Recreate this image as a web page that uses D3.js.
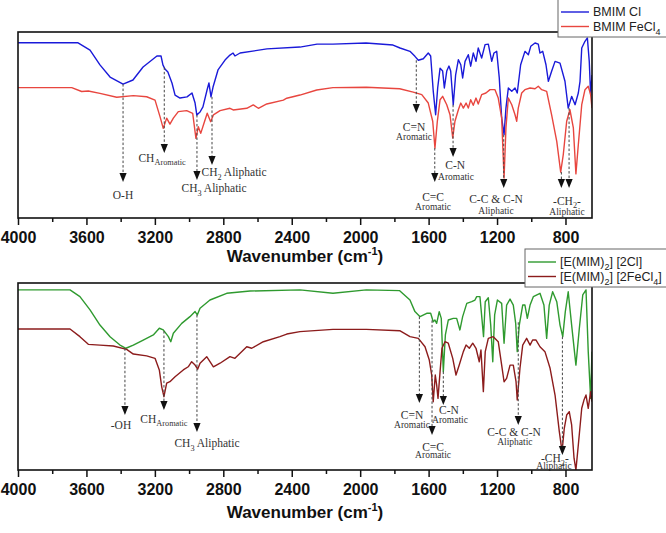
<!DOCTYPE html>
<meta charset="utf-8">
<style>
body { margin: 0; background: #fff; }
text { font-family: "Liberation Sans", Arial, sans-serif; }
.note text { font-family: "Liberation Serif", "Times New Roman", serif; fill: #333; }
.axis text { font-weight: bold; font-size: 16px; fill: #111; }
.axis path, .axis line { stroke: #111; stroke-width: 1.5px; }
.spectrum { fill: none; stroke-width: 1.4px; stroke-linejoin: round; }
</style>
<svg width="666" height="533"></svg>
<script src="https://d3js.org/d3.v7.min.js"></script>
<script>

// [wavenumber cm-1, transmittance a.u.]
var bmimCl = [[4000,94.2],[3649,94.2],[3579,90.3],[3521,82.3],[3462,75.8],[3386,72.0],[3328,74.2],[3269,81.2],[3188,87.1],[3164,87.1],[3153,82.3],[3141,80.1],[3124,78.5],[3100,72.6],[3082,66.1],[3053,64.5],[3012,65.1],[2983,67.2],[2965,61.8],[2955,55.4],[2936,57.0],[2919,59.7],[2895,68.8],[2884,72.6],[2872,65.1],[2860,70.4],[2831,79.6],[2790,84.9],[2761,87.6],[2743,88.7],[2732,87.1],[2702,88.7],[2545,90.9],[2352,91.9],[2252,93.5],[2159,93.5],[1966,94.1],[1808,93.0],[1767,91.4],[1709,89.6],[1680,86.9],[1660,84.8],[1631,85.6],[1602,88.7],[1588,87.1],[1573,68.3],[1559,55.5],[1547,69.9],[1533,80.6],[1518,79.0],[1508,69.9],[1494,79.0],[1481,81.7],[1471,79.0],[1456,60.9],[1442,77.0],[1426,85.1],[1412,82.4],[1401,75.3],[1387,84.2],[1368,87.8],[1354,81.6],[1339,88.7],[1323,84.2],[1310,91.4],[1290,86.0],[1270,93.2],[1251,93.5],[1231,84.2],[1218,88.7],[1202,89.6],[1187,75.3],[1173,53.8],[1159,44.8],[1148,59.1],[1134,69.9],[1114,68.1],[1095,69.9],[1082,67.2],[1062,82.4],[1037,89.6],[1017,87.8],[1003,92.3],[978,94.1],[959,93.5],[949,88.7],[933,89.6],[914,82.4],[900,73.5],[881,78.9],[861,84.2],[832,83.3],[803,73.5],[784,59.1],[764,65.4],[744,60.9],[725,67.2],[715,73.5],[705,91.4],[686,95.0],[672,96.8],[661,84.2],[653,66.3],[645,76.9]];

var bmimFeCl4 = [[4000,70.1],[3686,70.1],[3628,68.0],[3589,68.3],[3521,67.0],[3423,64.9],[3326,65.8],[3248,65.2],[3199,63.4],[3170,54.5],[3151,48.2],[3131,53.7],[3112,50.5],[3092,53.7],[3063,57.2],[3014,57.7],[2979,56.3],[2960,42.8],[2946,49.1],[2932,45.5],[2913,50.9],[2894,56.3],[2874,51.8],[2858,55.4],[2819,57.7],[2761,59.0],[2742,58.1],[2663,59.0],[2625,60.8],[2595,59.0],[2546,61.3],[2449,63.4],[2429,64.4],[2352,66.1],[2254,68.8],[2159,70.1],[1964,70.3],[1769,69.5],[1690,67.7],[1640,66.3],[1602,61.8],[1576,52.0],[1563,37.6],[1549,52.0],[1533,63.6],[1518,65.4],[1494,60.9],[1475,55.5],[1459,43.0],[1446,52.0],[1426,58.2],[1412,61.8],[1397,59.1],[1381,61.8],[1368,59.1],[1354,63.6],[1339,60.6],[1323,64.5],[1310,61.3],[1290,66.3],[1265,67.2],[1241,69.0],[1212,69.0],[1193,64.5],[1173,53.8],[1159,21.5],[1148,48.4],[1134,64.5],[1114,60.9],[1095,55.5],[1085,52.0],[1076,59.1],[1056,67.2],[1037,69.0],[1007,69.9],[978,69.5],[959,70.8],[939,69.0],[910,68.1],[881,55.5],[851,41.2],[828,24.7],[813,34.0],[793,52.0],[774,58.2],[754,48.4],[739,23.7],[725,39.4],[705,60.9],[686,69.0],[667,70.8],[653,66.3],[645,59.1]];

var emim2Cl = [[4000,96.3],[3696,96.3],[3638,92.7],[3579,85.6],[3521,77.5],[3462,71.3],[3404,66.8],[3369,65.1],[3326,66.8],[3268,69.5],[3209,72.2],[3174,75.8],[3151,74.9],[3121,71.3],[3107,68.6],[3092,73.1],[3043,78.4],[2995,82.0],[2965,84.7],[2952,82.9],[2936,86.5],[2878,90.9],[2780,94.5],[2644,95.7],[2352,96.3],[2159,94.5],[1964,96.3],[1769,95.9],[1709,90.9],[1680,84.7],[1650,82.0],[1611,83.8],[1588,83.8],[1573,79.3],[1563,80.2],[1553,78.4],[1538,84.7],[1526,81.1],[1514,52.6],[1502,72.2],[1485,80.2],[1456,81.1],[1436,81.1],[1417,74.9],[1401,82.0],[1377,89.1],[1348,90.0],[1329,90.9],[1319,92.7],[1300,92.7],[1279,71.3],[1269,90.0],[1251,92.1],[1237,77.5],[1225,57.9],[1214,82.9],[1198,90.9],[1173,89.1],[1159,67.8],[1144,88.2],[1124,91.4],[1105,88.2],[1091,78.4],[1082,63.3],[1070,77.5],[1050,88.2],[1037,88.2],[1023,81.1],[1007,88.2],[988,92.7],[949,94.5],[926,88.2],[910,70.4],[895,88.2],[875,95.3],[851,90.0],[832,77.5],[816,71.3],[801,84.7],[784,95.3],[764,77.5],[739,56.1],[719,75.8],[699,93.6],[680,96.3],[667,63.3],[653,38.3],[645,63.3]];

var emim2FeCl4 = [[4000,75.4],[3696,75.4],[3638,71.3],[3589,67.2],[3521,66.8],[3443,66.3],[3365,64.5],[3326,62.0],[3248,61.0],[3199,59.7],[3174,53.5],[3160,44.5],[3147,39.2],[3131,46.4],[3112,47.2],[3082,49.9],[3034,53.5],[3005,55.2],[2985,57.9],[2965,56.1],[2950,53.9],[2936,57.1],[2897,60.6],[2858,55.2],[2819,57.1],[2761,60.6],[2732,59.7],[2663,65.9],[2634,65.1],[2566,68.6],[2469,71.3],[2429,72.7],[2352,74.0],[2159,75.2],[1964,75.2],[1769,74.5],[1709,71.3],[1660,70.4],[1621,65.9],[1596,58.8],[1582,50.8],[1573,36.5],[1561,50.8],[1553,45.5],[1545,38.3],[1533,52.6],[1522,65.1],[1504,68.6],[1485,67.8],[1459,59.7],[1440,50.8],[1421,56.1],[1397,63.3],[1381,66.8],[1362,65.1],[1342,67.8],[1323,65.1],[1304,57.9],[1294,64.2],[1280,41.9],[1269,63.3],[1251,70.4],[1222,71.3],[1193,68.6],[1173,56.1],[1159,47.2],[1144,49.0],[1124,56.1],[1105,56.1],[1089,47.2],[1082,37.4],[1066,54.4],[1050,66.8],[1027,70.4],[1007,66.8],[992,69.5],[972,69.5],[949,65.9],[920,63.3],[890,54.4],[861,40.1],[836,20.5],[820,9.8],[807,22.3],[793,29.4],[778,31.2],[764,24.1],[750,6.3],[739,0],[725,13.4],[705,33.0],[692,37.4],[680,40.1],[667,33.0],[653,41.9],[645,36.5]];

var majorTicks = [4000, 3600, 3200, 2800, 2400, 2000, 1600, 1200, 800];
var minorTicks = [3800, 3400, 3000, 2600, 2200, 1800, 1400, 1000];

// peak assignments: arrows {wn, from, tip} and labels {wn, t, parts}
// parts: plain strings, or [string] for a subscript
var topArrows = [
  {wn: 3386, from: 72.0, tip: 19.4}, {wn: 3145, from: 81.0, tip: 34.9},
  {wn: 2954, from: 55.4, tip: 20.4}, {wn: 2866, from: 65.1, tip: 28.5},
  {wn: 1672, from: 84.8, tip: 56.5}, {wn: 1564, from: 37.6, tip: 19.4},
  {wn: 1457, from: 60.9, tip: 32.8}, {wn: 1161, from: 44.8, tip: 16.1},
  {wn: 824, from: 24.7, tip: 16.1}, {wn: 779, from: 59.1, tip: 16.1}
];
var topLabels = [
  {wn: 3386, t: 12.4, parts: ["O-H"]},
  {wn: 3158, t: 32.3, parts: ["CH", ["Aromatic"]]},
  {wn: 2854, t: 16.1, parts: ["CH", ["3"], " Aliphatic"]},
  {wn: 2737, t: 24.7, parts: ["CH", ["2"], "  Aliphatic"]},
  {wn: 1685, t: 48.9, parts: ["C=N"]}, {wn: 1685, t: 43.5, parts: ["Aromatic"], small: true},
  {wn: 1574, t: 11.3, parts: ["C=C"]}, {wn: 1574, t: 5.9, parts: ["Aromatic"], small: true},
  {wn: 1445, t: 28.5, parts: ["C-N"]}, {wn: 1440, t: 22.0, parts: ["Aromatic"], small: true},
  {wn: 1206, t: 10.2, parts: ["C-C & C-N"]}, {wn: 1206, t: 3.8, parts: ["Aliphatic"], small: true},
  {wn: 791, t: 9.2, parts: ["-CH", ["2"], "-"]}, {wn: 791, t: 3.5, parts: ["Aliphatic"], small: true}
];

var bottomArrows = [
  {wn: 3375, from: 65.1, tip: 29.4}, {wn: 3147, from: 74.3, tip: 32.1},
  {wn: 2954, from: 82.9, tip: 20.3}, {wn: 1654, from: 82.0, tip: 35.8},
  {wn: 1580, from: 80.0, tip: 18.7}, {wn: 1514, from: 52.6, tip: 34.8},
  {wn: 1076, from: 79.0, tip: 24.1}, {wn: 818, from: 71.3, tip: 8.0}
];
var bottomLabels = [
  {wn: 3398, t: 24.1, parts: ["-OH"]},
  {wn: 3147, t: 27.3, parts: ["CH", ["Aromatic"]]},
  {wn: 2895, t: 14.4, parts: ["CH", ["3"], " Aliphatic"]},
  {wn: 1697, t: 29.4, parts: ["C=N"]}, {wn: 1697, t: 24.1, parts: ["Aromatic"], small: true},
  {wn: 1574, t: 12.3, parts: ["C=C"]}, {wn: 1574, t: 8.0, parts: ["Aromatic"], small: true},
  {wn: 1481, t: 32.1, parts: ["C-N"]}, {wn: 1475, t: 26.7, parts: ["Aromatic"], small: true},
  {wn: 1101, t: 20.3, parts: ["C-C & C-N"]}, {wn: 1096, t: 15.0, parts: ["Aliphatic"], small: true},
  {wn: 862, t: 6.4, parts: ["-CH", ["2"], "-"]}, {wn: 867, t: 2.2, parts: ["Aliphatic"], small: true}
];

var svg = d3.select("svg");
var x = d3.scaleLinear().domain([4000, 645]).range([18, 592]);

var panels = [
  {top: 32, bottom: 218, titleY: 262,
   series: [{name: "BMIM Cl", parts: ["BMIM Cl"], data: bmimCl, color: "#1a1ad9"},
            {name: "BMIM FeCl4", parts: ["BMIM FeCl", ["4"]], data: bmimFeCl4, color: "#e8463f"}],
   arrows: topArrows, labels: topLabels, legend: {x: 558, y: -1, w: 112, h: 38}},
  {top: 283, bottom: 470, titleY: 518,
   series: [{name: "2Cl", parts: ["[E(MIM)", ["2"], "] [2Cl]"], data: emim2Cl, color: "#2f9a2f"},
            {name: "2FeCl4", parts: ["[E(MIM)", ["2"], "] [2FeCl", ["4"], "]"], data: emim2FeCl4, color: "#8c1c1c"}],
   arrows: bottomArrows, labels: bottomLabels, legend: {x: 525, y: 249, w: 145, h: 38}}
];

function addParts(text, parts, size) {
  var shifted = false;
  parts.forEach(function(p) {
    if (Array.isArray(p)) {
      text.append("tspan").attr("font-size", size * 0.72).attr("dy", size * 0.3).text(p[0]);
      shifted = true;
    } else {
      var ts = text.append("tspan").text(p);
      if (shifted) { ts.attr("dy", -size * 0.3); shifted = false; }
    }
  });
}

panels.forEach(function(p, i) {
  var y = d3.scaleLinear().domain([0, 100]).range([p.bottom, p.top]);
  var g = svg.append("g");
  var clipId = "clip" + i;

  g.append("clipPath").attr("id", clipId)
    .append("rect").attr("x", 18).attr("y", p.top).attr("width", 574).attr("height", p.bottom - p.top);

  var line = d3.line().x(function(d) { return x(d[0]); }).y(function(d) { return y(d[1]); });

  g.append("g").attr("clip-path", "url(#" + clipId + ")")
    .selectAll("path").data(p.series).enter().append("path")
      .attr("class", "spectrum")
      .attr("stroke", function(d) { return d.color; })
      .attr("d", function(d) { return line(d.data); });

  // annotations
  var note = g.append("g").attr("class", "note");
  note.selectAll("line").data(p.arrows).enter().append("line")
    .attr("x1", function(d) { return x(d.wn); }).attr("x2", function(d) { return x(d.wn); })
    .attr("y1", function(d) { return y(d.from); })
    .attr("y2", function(d) { return y(d.tip) - 8; })
    .attr("stroke", "#444").attr("stroke-width", 1).attr("stroke-dasharray", "2.5,2");
  note.selectAll("path").data(p.arrows).enter().append("path")
    .attr("d", function(d) {
      var cx = x(d.wn), ty = y(d.tip);
      return "M" + (cx - 3.6) + "," + (ty - 9) + "L" + (cx + 3.6) + "," + (ty - 9) + "L" + cx + "," + ty + "Z";
    })
    .attr("fill", "#111");
  note.selectAll("text").data(p.labels).enter().append("text")
    .attr("x", function(d) { return x(d.wn); })
    .attr("y", function(d) { return y(d.t); })
    .attr("dy", "0.35em")
    .attr("text-anchor", "middle")
    .attr("font-size", function(d) { return d.small ? 9.5 : 11.5; })
    .each(function(d) { addParts(d3.select(this), d.parts, d.small ? 9.5 : 11.5); });

  // frame
  g.append("rect").attr("x", 18).attr("y", p.top).attr("width", 574).attr("height", p.bottom - p.top)
    .attr("fill", "none").attr("stroke", "#111").attr("stroke-width", 1.6);

  g.append("g").attr("class", "axis").attr("transform", "translate(0," + p.bottom + ")")
    .call(d3.axisBottom(x).tickValues(majorTicks).tickSize(7).tickPadding(7).tickFormat(d3.format("d")))
    .call(function(a) { a.select(".domain").remove(); });
  g.append("g").attr("class", "axis").attr("transform", "translate(0," + p.bottom + ")")
    .call(d3.axisBottom(x).tickValues(minorTicks).tickSize(4).tickFormat(""))
    .call(function(a) { a.select(".domain").remove(); });

  var title = g.append("text").attr("x", 305).attr("y", p.titleY).attr("text-anchor", "middle")
    .attr("font-size", 17).attr("font-weight", "bold").attr("fill", "#111");
  title.append("tspan").text("Wavenumber (cm");
  title.append("tspan").attr("font-size", 11).attr("dy", -7).text("-1");
  title.append("tspan").attr("dy", 7).text(")");

  // legend
  var lg = g.append("g").attr("transform", "translate(" + p.legend.x + "," + p.legend.y + ")");
  lg.append("rect").attr("width", p.legend.w).attr("height", p.legend.h)
    .attr("fill", "#fff").attr("stroke", "#666").attr("stroke-width", 1);
  var item = lg.selectAll("g.item").data(p.series).enter().append("g")
    .attr("class", "item")
    .attr("transform", function(d, k) { return "translate(0," + (13 + k * 14.5) + ")"; });
  item.append("line").attr("x1", 3).attr("x2", 31).attr("stroke", function(d) { return d.color; }).attr("stroke-width", 1.4);
  item.append("text").attr("x", 35).attr("dy", "0.35em").attr("font-size", 12.5).attr("fill", "#222")
    .each(function(d) { addParts(d3.select(this), d.parts, 12.5); });
});

</script>
